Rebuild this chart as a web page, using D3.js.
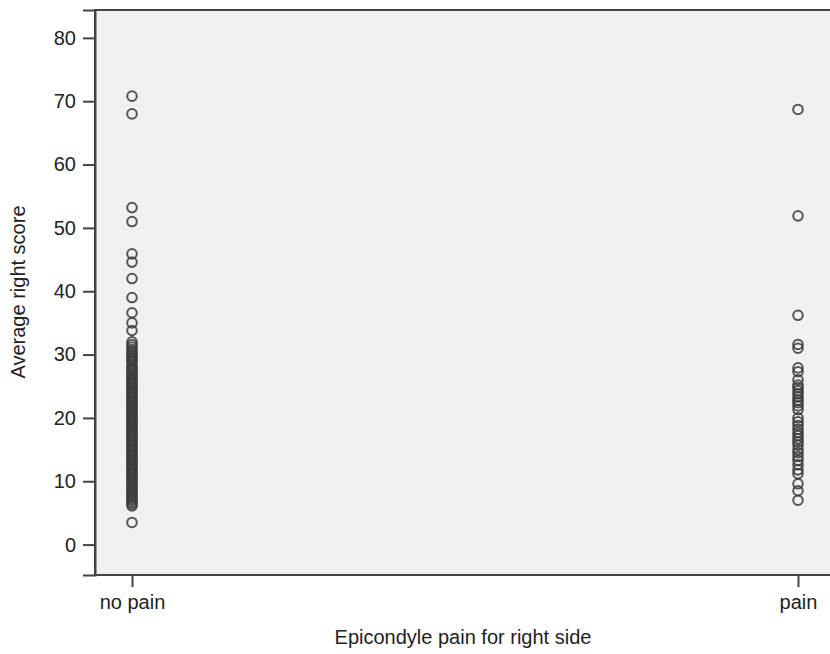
<!DOCTYPE html>
<html><head><meta charset="utf-8">
<script src="https://cdn.jsdelivr.net/npm/d3@7"></script>
<style>body{margin:0;background:#fff}svg{display:block}text{font-family:"Liberation Sans",Arial,sans-serif;fill:#222}</style>
</head><body><svg id="c" width="830" height="654"></svg>
<script>
const categories = ["no pain", "pain"];
const noPain = [70.8,68.0,53.2,51.0,45.9,44.6,42.0,39.0,36.6,35.0,33.8,32.0,31.6,31.2,30.8,30.4,30.0,29.7,29.4,29.1,28.8,28.4,
  28.0,27.7,27.4,27.1,26.8,26.5,26.2,25.9,25.6,25.3,25.0,24.7,24.4,24.1,23.8,23.5,23.2,22.9,22.6,22.3,22.0,21.7,21.4,
  21.1,20.8,20.5,20.2,19.9,19.6,19.3,19.0,18.7,18.4,18.1,17.8,17.5,17.2,16.9,16.6,16.3,16.0,15.7,15.4,15.1,14.8,14.5,
  14.2,13.9,13.6,13.3,13.0,12.7,12.4,12.1,11.8,11.5,11.2,10.9,10.6,10.3,10.0,9.7,9.4,9.1,8.8,8.5,8.2,7.9,7.6,7.3,
  7.0,6.7,6.4,6.1,3.5];
const pain = [68.7,51.9,36.2,31.6,31.0,27.9,27.3,26.0,25.2,24.8,24.3,23.8,23.3,22.8,22.4,21.9,21.3,20.0,19.4,18.8,
  18.2,17.7,17.2,16.7,16.2,15.7,15.0,14.5,13.9,13.3,12.6,11.8,11.2,9.6,8.5,7.0];
const yTicks = [0,10,20,30,40,50,60,70,80];

(function () {
const svg = d3.select("#c");
const mLeft = 95, mRight = 840, mTop = 10, mBottom = 575;
const y = d3.scaleLinear().domain([-4.8, 84.4]).range([mBottom, mTop]);
const x = d3.scalePoint().domain(categories).range([132, 798]);
const FONT = '"Liberation Sans",Arial,sans-serif';

svg.append("rect").attr("x", mLeft).attr("y", mTop).attr("width", mRight - mLeft).attr("height", mBottom - mTop)
  .attr("fill", "#f0f0f0").attr("stroke", "#444").attr("stroke-width", 2);

const gy = svg.append("g").attr("transform", `translate(${mLeft},0)`)
  .call(d3.axisLeft(y).tickValues(yTicks).tickSize(12).tickPadding(7).tickFormat(d3.format("d")));
gy.select(".domain").attr("stroke", "#444").attr("stroke-width", 2);
gy.selectAll(".tick line").attr("stroke", "#444").attr("stroke-width", 2);
gy.selectAll(".tick text").attr("font-size", 20).style("font-family", FONT).attr("fill", "#222");

const gx = svg.append("g").attr("transform", `translate(0,${mBottom})`)
  .call(d3.axisBottom(x).tickSize(12).tickPadding(8));
gx.select(".domain").remove();
gx.selectAll(".tick line").attr("stroke", "#444").attr("stroke-width", 2);
gx.selectAll(".tick text").attr("font-size", 20).style("font-family", FONT).attr("fill", "#222");

const pts = [];
noPain.forEach(v => pts.push({c: "no pain", v}));
pain.forEach(v => pts.push({c: "pain", v}));
svg.append("g").selectAll("circle").data(pts).join("circle")
  .attr("cx", d => x(d.c)).attr("cy", d => y(d.v)).attr("r", 4.8)
  .attr("fill", "none").attr("stroke", "#3a3a3a").attr("stroke-width", 2).attr("stroke-opacity", 0.85);

svg.append("text").attr("x", 463).attr("y", 644).attr("text-anchor", "middle").attr("font-size", 20)
  .text("Epicondyle pain for right side");
svg.append("text").attr("transform", "translate(25,292) rotate(-90)").attr("text-anchor", "middle").attr("font-size", 20)
  .text("Average right score");
})();
</script></body></html>
